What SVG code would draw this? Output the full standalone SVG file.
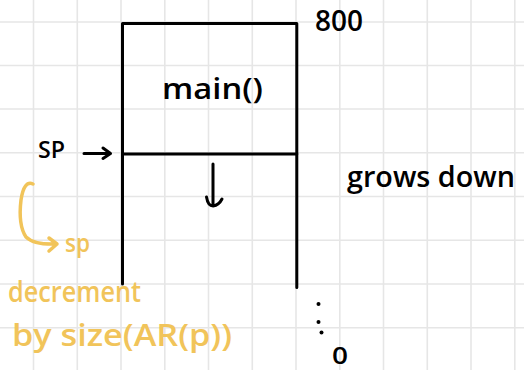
<svg xmlns="http://www.w3.org/2000/svg" width="524" height="370" viewBox="0 0 524 370">
  <style>
    .grid line { stroke: #e6e6e6; stroke-width: 1.6; }
    .ink { fill: none; stroke: #000; stroke-width: 3; stroke-linecap: round; stroke-linejoin: round; }
    .yel { fill: none; stroke: #f1c45a; stroke-width: 3.5; stroke-linecap: round; stroke-linejoin: round; }
    .t { font-family: "Open Sans", "Liberation Sans", sans-serif; font-weight: 600; fill: #000; }
    .ty { font-family: "Open Sans", "Liberation Sans", sans-serif; font-weight: 600; fill: #f1c45a; }
  </style>
  <rect width="524" height="370" fill="#fff"/>
  <g class="grid">
    <line x1="33.5" y1="0" x2="33.5" y2="370"/>
    <line x1="77.3" y1="0" x2="77.3" y2="370"/>
    <line x1="121" y1="0" x2="121" y2="370"/>
    <line x1="164.8" y1="0" x2="164.8" y2="370"/>
    <line x1="208.5" y1="0" x2="208.5" y2="370"/>
    <line x1="252.3" y1="0" x2="252.3" y2="370"/>
    <line x1="296" y1="0" x2="296" y2="370"/>
    <line x1="339.8" y1="0" x2="339.8" y2="370"/>
    <line x1="383.5" y1="0" x2="383.5" y2="370"/>
    <line x1="427.3" y1="0" x2="427.3" y2="370"/>
    <line x1="471" y1="0" x2="471" y2="370"/>
    <line x1="514.8" y1="0" x2="514.8" y2="370"/>
    <line x1="0" y1="22" x2="524" y2="22"/>
    <line x1="0" y1="65.5" x2="524" y2="65.5"/>
    <line x1="0" y1="109" x2="524" y2="109"/>
    <line x1="0" y1="152.7" x2="524" y2="152.7"/>
    <line x1="0" y1="196.5" x2="524" y2="196.5"/>
    <line x1="0" y1="240.2" x2="524" y2="240.2"/>
    <line x1="0" y1="284" x2="524" y2="284"/>
    <line x1="0" y1="327.7" x2="524" y2="327.7"/>
  </g>
  <g id="stack">
    <path class="ink" d="M122.5 284 V23.5 H296.8 V287.5"/>
    <line class="ink" x1="122.5" y1="154" x2="296.8" y2="154"/>
  </g>
  <g id="main-frame">
    <text class="t" x="162" y="99" font-size="29" textLength="101" lengthAdjust="spacingAndGlyphs">main()</text>
  </g>
  <g id="label-800">
    <text class="t" x="315" y="31" font-size="28" textLength="48" lengthAdjust="spacingAndGlyphs">800</text>
  </g>
  <g id="label-sp">
    <text class="t" x="38" y="158" font-size="24" textLength="27" lengthAdjust="spacingAndGlyphs">SP</text>
  </g>
  <g id="label-grows">
    <text class="t" x="347" y="187" font-size="29" textLength="168" lengthAdjust="spacingAndGlyphs">grows down</text>
  </g>
  <g id="dots">
    <circle cx="318.5" cy="304" r="2"/>
    <circle cx="318.5" cy="322" r="2"/>
    <circle cx="321.5" cy="332.5" r="2"/>
  </g>
  <g id="label-0">
    <text class="t" x="332" y="364" font-size="24" textLength="16" lengthAdjust="spacingAndGlyphs">0</text>
  </g>
  <g id="note">
    <text class="ty" x="65" y="252" font-size="26" textLength="25" lengthAdjust="spacingAndGlyphs">sp</text>
    <text class="ty" x="8" y="302" font-size="28" textLength="133" lengthAdjust="spacingAndGlyphs">decrement</text>
    <text class="ty" x="12" y="346" font-size="31" textLength="220" lengthAdjust="spacingAndGlyphs">by size(AR(p))</text>
  </g>
  <g id="connectors">
    <path class="ink" d="M84 153.5 H110 M103 148 L110.5 153.5 L103 158.5"/>
    <path class="ink" d="M213 164 V205 M206.5 197 Q208 206 213 206 Q219 205 222 199"/>
    <path class="yel" d="M33 184 Q24 180 21 200 Q18 225 26 237 Q34 245 57 244 M49 238 L57 244 L49 251"/>
  </g>
</svg>
